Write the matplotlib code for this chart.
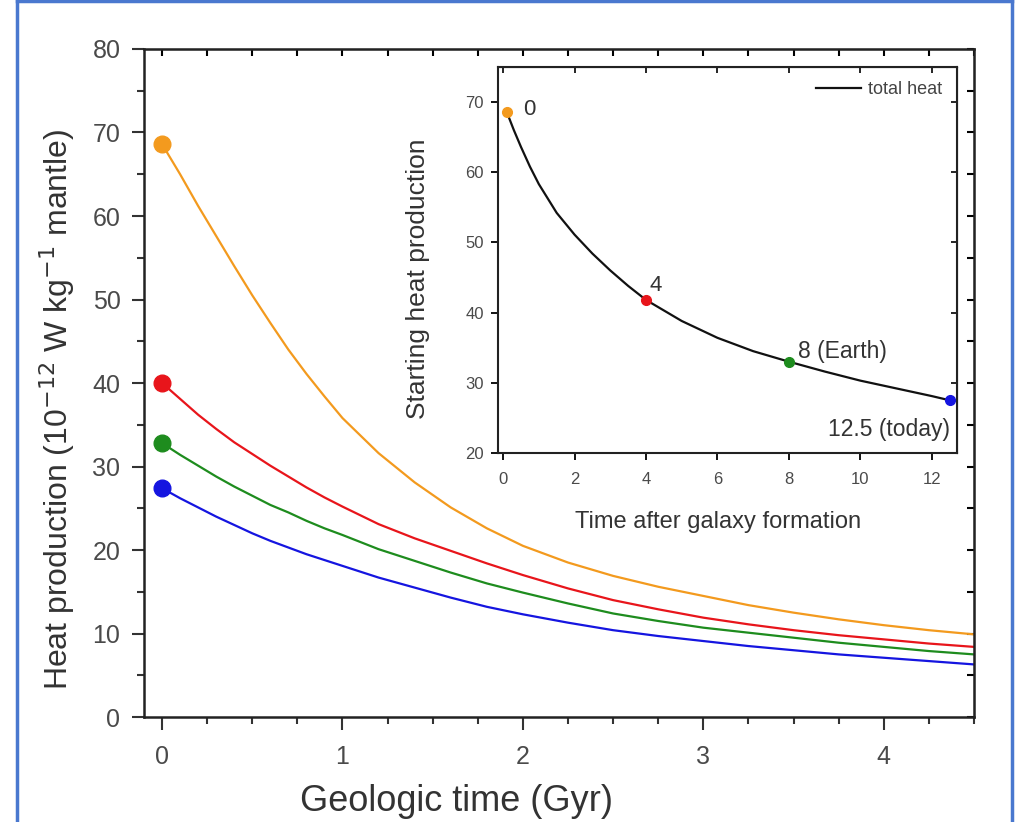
import matplotlib
matplotlib.use('Agg')
import matplotlib.pyplot as plt
from matplotlib.lines import Line2D
from matplotlib.ticker import MultipleLocator

plt.rcParams['font.family'] = ['Liberation Sans', 'DejaVu Sans']

# Data
time_gyr = [0, 0.1, 0.2, 0.3, 0.4, 0.5, 0.6, 0.7, 0.8, 0.9, 1.0, 1.2, 1.4, 1.6, 1.8,
            2.0, 2.25, 2.5, 2.75, 3.0, 3.25, 3.5, 3.75, 4.0, 4.25, 4.5]
heat_orange = [68.6, 65.0, 61.2, 57.6, 54.0, 50.5, 47.2, 44.0, 41.1, 38.4, 35.8, 31.6,
               28.1, 25.1, 22.6, 20.5, 18.5, 16.9, 15.6, 14.5, 13.4, 12.5, 11.7, 11.0,
               10.4, 9.9]
heat_red = [40.0, 38.1, 36.2, 34.5, 32.9, 31.5, 30.1, 28.8, 27.5, 26.3, 25.2, 23.1,
            21.4, 19.9, 18.4, 17.0, 15.4, 14.0, 12.9, 11.9, 11.1, 10.4, 9.8, 9.3, 8.8, 8.4]
heat_green = [32.8, 31.4, 30.1, 28.8, 27.6, 26.5, 25.4, 24.5, 23.5, 22.6, 21.8, 20.1,
              18.7, 17.3, 16.0, 14.9, 13.6, 12.4, 11.5, 10.7, 10.1, 9.5, 8.9, 8.4, 7.9, 7.5]
heat_blue = [27.4, 26.2, 25.1, 24.0, 23.0, 22.0, 21.1, 20.3, 19.5, 18.8, 18.1, 16.7,
             15.5, 14.3, 13.2, 12.3, 11.3, 10.4, 9.7, 9.1, 8.5, 8.0, 7.5, 7.1, 6.7, 6.3]

# inset: starting heat vs time after galaxy formation
galaxy_time = [0.1, 0.3, 0.5, 0.75, 1.0, 1.5, 2.0, 2.5, 3.0, 3.5, 4.0, 5, 6, 7, 8, 9,
               10, 11, 12, 12.5]
start_heat = [68.6, 66.0, 63.6, 60.8, 58.3, 54.2, 51.1, 48.4, 46.0, 43.8, 41.8, 38.8,
              36.4, 34.5, 33.0, 31.6, 30.3, 29.2, 28.1, 27.5]
marker_times = [0.1, 4, 8, 12.5]
marker_heat = [68.6, 41.8, 33.0, 27.5]
marker_labels = ['0', '4', '8 (Earth)', '12.5 (today)']

colors = ['#F39A1E', '#E8151B', '#1E8C1E', '#1515E0']

fig = plt.figure(figsize=(10.2, 8.22), dpi=100)

# main axes
ax = fig.add_axes([0.1412, 0.1277, 0.8137, 0.8127])
for y, c in zip([heat_orange, heat_red, heat_green, heat_blue], colors):
    ax.plot(time_gyr, y, color=c, lw=1.6)
    ax.plot(time_gyr[0], y[0], 'o', color=c, ms=12)
ax.set_xlim(-0.1, 4.5)
ax.set_ylim(0, 80)
ax.xaxis.set_major_locator(MultipleLocator(1))
ax.xaxis.set_minor_locator(MultipleLocator(0.25))
ax.yaxis.set_major_locator(MultipleLocator(10))
ax.yaxis.set_minor_locator(MultipleLocator(5))
ax.tick_params(which='major', direction='out', length=9, width=1.5, labelsize=18,
               pad=8, colors='#333333', labelcolor='#4a4a4a')
ax.tick_params(axis='x', which='major', pad=11)
ax.tick_params(which='minor', direction='out', length=5, width=1.5, colors='#333333')
for s in ax.spines.values():
    s.set_linewidth(1.8)
    s.set_color('#222222')
ax.set_xlabel('Geologic time (Gyr)', fontsize=26, color='#333333')
ax.set_ylabel('Heat production (10$^{-12}$ W kg$^{-1}$ mantle)', fontsize=23,
              color='#333333')
ax.xaxis.set_label_coords(0.376, -0.1)
ax.yaxis.set_label_coords(-0.081, 0.46)

# mirrored ticks on top and right
top = ax.secondary_xaxis('top')
top.xaxis.set_major_locator(MultipleLocator(1))
top.xaxis.set_minor_locator(MultipleLocator(0.25))
top.tick_params(which='both', direction='in', labeltop=False, width=1.5, length=5)
right = ax.secondary_yaxis('right')
right.yaxis.set_major_locator(MultipleLocator(10))
right.yaxis.set_minor_locator(MultipleLocator(5))
right.tick_params(which='both', direction='in', labelright=False, width=1.5, length=5)

# inset axes
ins = fig.add_axes([0.488, 0.449, 0.45, 0.4696])
ins.plot(galaxy_time, start_heat, color='#111111', lw=1.6, label='total heat')
for xm, ym, c in zip(marker_times, marker_heat, colors):
    ins.plot(xm, ym, 'o', color=c, ms=7, zorder=3, clip_on=False)
ins.text(0.55, 69.0, marker_labels[0], fontsize=16, color='#333333', va='center')
ins.text(4.1, 43.8, marker_labels[1], fontsize=16, color='#333333', va='center')
ins.text(8.25, 34.5, marker_labels[2], fontsize=16.5, color='#333333', va='center')
ins.text(12.5, 23.3, marker_labels[3], fontsize=16.5, color='#333333', va='center',
         ha='right')
ins.set_xlim(-0.15, 12.7)
ins.set_ylim(20, 75)
ins.xaxis.set_major_locator(MultipleLocator(2))
ins.yaxis.set_major_locator(MultipleLocator(10))
ins.tick_params(which='major', direction='out', length=5, width=1.3, labelsize=12,
                labelcolor='#4a4a4a', pad=5)
ins.tick_params(axis='x', pad=9)
for s in ins.spines.values():
    s.set_linewidth(1.5)
    s.set_color('#222222')
ins.set_xlabel('Time after galaxy formation', fontsize=17, color='#333333')
ins.set_ylabel('Starting heat production', fontsize=19, color='#333333')
ins.xaxis.set_label_coords(0.48, -0.15)
ins.yaxis.set_label_coords(-0.148, 0.45)
itop = ins.secondary_xaxis('top')
itop.xaxis.set_major_locator(MultipleLocator(2))
itop.tick_params(direction='in', labeltop=False, width=1.2, length=4)
iright = ins.secondary_yaxis('right')
iright.yaxis.set_major_locator(MultipleLocator(10))
iright.tick_params(direction='in', labelright=False, width=1.2, length=4)
ins.legend(loc='upper right', frameon=False, fontsize=13, handlelength=2.5,
           handletextpad=0.4, labelcolor='#444444', borderaxespad=0.4)

# blue frame around the figure
border = '#4A78CF'
fig.add_artist(Line2D([17 / 1020, 17 / 1020], [0, 1], color=border, lw=2.5,
                      transform=fig.transFigure))
fig.add_artist(Line2D([1012 / 1020, 1012 / 1020], [0, 1], color=border, lw=2.5,
                      transform=fig.transFigure))
fig.add_artist(Line2D([17 / 1020, 1012 / 1020], [0.999, 0.999], color=border, lw=2.5,
                      transform=fig.transFigure))

fig.savefig('out.png', dpi=100)
